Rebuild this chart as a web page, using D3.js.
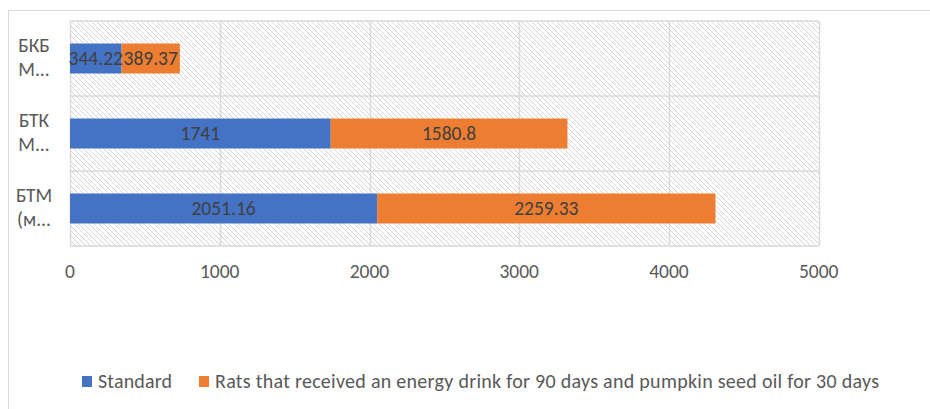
<!DOCTYPE html>
<html><head><meta charset="utf-8">
<script src="https://cdn.jsdelivr.net/npm/d3@7"></script>
<style>body{margin:0;background:#fff;}svg{display:block;font-family:Carlito,"Open Sans","Noto Sans",sans-serif;}</style>
</head><body>
<svg id="c" width="930" height="409"></svg>
<script>
const categories = [["БКБ","М..."],["БТК","М..."],["БТМ","(м..."]];
const standard = [344.22, 1741, 2051.16];
const treated = [389.37, 1580.8, 2259.33];
const seriesNames = ["Standard","Rats that received an energy drink for 90 days and pumpkin seed oil for 30 days"];
const colors = ["#4472C4","#ED7D31"];
const xTicks = [0,1000,2000,3000,4000,5000];

const svg = d3.select("#c");
const x = d3.scaleLinear().domain([0,5000]).range([70, 818.75]);
const y = d3.scaleBand().domain(d3.range(categories.length)).range([21,246]).paddingInner(0.6).paddingOuter(0.3);

// outer frame
svg.append("line").attr("x1",8).attr("x2",930).attr("y1",10.5).attr("y2",10.5).attr("stroke","#d9d9d9");
svg.append("line").attr("x1",8.5).attr("x2",8.5).attr("y1",10).attr("y2",409).attr("stroke","#d9d9d9");

const defs = svg.append("defs");
const pat = defs.append("pattern").attr("id","hatch").attr("patternUnits","userSpaceOnUse")
  .attr("width",5).attr("height",5);
pat.append("rect").attr("width",5).attr("height",5).attr("fill","#fff");
pat.append("path").attr("d","M-1,-1 L6,6 M-1,4 L1,6 M4,-1 L6,1").attr("stroke","#d4d4d4").attr("stroke-width",1);

svg.append("rect").attr("x",x(0)).attr("y",21).attr("width",x(5000)-x(0)).attr("height",225).attr("fill","url(#hatch)");

// gridlines
svg.append("g").selectAll("line").data(xTicks).join("line")
  .attr("x1",d=>Math.round(x(d))+0.5).attr("x2",d=>Math.round(x(d))+0.5).attr("y1",21).attr("y2",246)
  .attr("stroke","#d9d9d9").attr("stroke-width",1.5);
const bounds = [21,96,171,246];
svg.append("g").selectAll("line").data(bounds).join("line")
  .attr("x1",x(0)).attr("x2",x(5000)).attr("y1",d=>d).attr("y2",d=>d)
  .attr("stroke","#d9d9d9").attr("stroke-width",1.5);

// bars
const stackData = categories.map((c,i)=>({i, a:standard[i], b:treated[i]}));
const stack = d3.stack().keys(["a","b"])(stackData);
stack.forEach((s,si)=>{
  const g = svg.append("g");
  g.selectAll("rect").data(s).join("rect")
    .attr("x",d=>x(d[0])).attr("width",d=>x(d[1])-x(d[0]))
    .attr("y",d=>y(d.data.i)).attr("height",y.bandwidth())
    .attr("fill",colors[si]);
});
stack.forEach((s,si)=>{
  svg.append("g").selectAll("text").data(s).join("text")
    .attr("x",d=>(x(d[0])+x(d[1]))/2).attr("y",d=>y(d.data.i)+y.bandwidth()/2)
    .attr("dy","0.35em").attr("text-anchor","middle")
    .attr("fill","#404040").attr("font-size",19.5)
    .text(d=>si===0? d.data.a : d.data.b);
});

// x axis labels
svg.append("g").selectAll("text").data(xTicks).join("text")
  .attr("x",d=>x(d)).attr("y",271).attr("dy","0.35em").attr("text-anchor","middle")
  .attr("fill","#595959").attr("font-size",19.5).text(d=>d);

// category labels
const cl = svg.append("g").selectAll("text").data(categories).join("text")
  .attr("text-anchor","middle").attr("fill","#595959").attr("font-size",19.5);
cl.each(function(d,i){
  const t = d3.select(this);
  const cy = y(i)+y.bandwidth()/2;
  t.append("tspan").attr("x",34).attr("y",cy-13.5).attr("dy","0.35em").text(d[0]);
  t.append("tspan").attr("x",34).attr("y",cy+11).attr("dy","0.35em").text(d[1]);
});

// legend
const lg = svg.append("g");
const lx = [82,199];
const lw = [74,664];
seriesNames.forEach((n,i)=>{
  lg.append("rect").attr("x",lx[i]).attr("y",376).attr("width",10).attr("height",11).attr("fill",colors[i]);
  lg.append("text").attr("x",lx[i]+16).attr("y",381).attr("dy","0.35em").attr("fill","#595959")
    .attr("font-size",20).attr("textLength",lw[i]).attr("lengthAdjust","spacing").text(n);
});
</script>
</body></html>
